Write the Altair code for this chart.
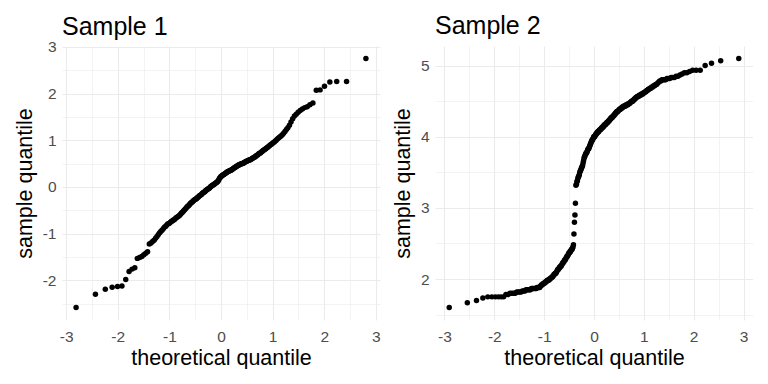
import altair as alt
import pandas as pd

# ---- data (sorted sample values) ----
sample1 = [
    -2.58, -2.30, -2.19, -2.15, -2.13, -2.12, -1.98, -1.81, -1.76, -1.73,
    -1.53, -1.51, -1.49, -1.45, -1.42, -1.39, -1.22, -1.20, -1.17, -1.14,
    -1.10, -1.06, -1.02, -0.98, -0.95, -0.92, -0.89, -0.86, -0.84, -0.81,
    -0.79, -0.78, -0.76, -0.74, -0.73, -0.71, -0.70, -0.68, -0.66, -0.65,
    -0.63, -0.62, -0.60, -0.58, -0.56, -0.54, -0.52, -0.50, -0.48, -0.46,
    -0.44, -0.42, -0.41, -0.39, -0.37, -0.35, -0.34, -0.32, -0.31, -0.29,
    -0.28, -0.27, -0.26, -0.25, -0.23, -0.22, -0.21, -0.19, -0.18, -0.17,
    -0.16, -0.14, -0.13, -0.12, -0.11, -0.10, -0.08, -0.07, -0.06, -0.05,
    -0.04, -0.03, -0.02, 0.00, 0.01, 0.02, 0.03, 0.04, 0.05, 0.06,
    0.07, 0.08, 0.09, 0.10, 0.11, 0.13, 0.15, 0.18, 0.20, 0.22,
    0.23, 0.24, 0.25, 0.26, 0.27, 0.28, 0.29, 0.30, 0.31, 0.32,
    0.33, 0.33, 0.34, 0.35, 0.36, 0.36, 0.37, 0.38, 0.39, 0.40,
    0.41, 0.42, 0.43, 0.44, 0.45, 0.46, 0.47, 0.47, 0.48, 0.49,
    0.49, 0.50, 0.51, 0.51, 0.52, 0.53, 0.54, 0.55, 0.55, 0.56,
    0.57, 0.58, 0.58, 0.59, 0.60, 0.61, 0.62, 0.63, 0.64, 0.65,
    0.67, 0.68, 0.69, 0.71, 0.72, 0.73, 0.75, 0.76, 0.78, 0.79,
    0.81, 0.82, 0.84, 0.85, 0.87, 0.89, 0.91, 0.92, 0.94, 0.96,
    0.98, 1.00, 1.03, 1.05, 1.07, 1.09, 1.12, 1.15, 1.19, 1.23,
    1.27, 1.32, 1.39, 1.46, 1.52, 1.56, 1.60, 1.64, 1.67, 1.70,
    1.72, 1.76, 1.80, 2.07, 2.08, 2.16, 2.25, 2.26, 2.26, 2.75,
]

sample2 = [
    1.600, 1.667, 1.700, 1.733, 1.750, 1.750, 1.750, 1.750, 1.750, 1.750,
    1.783, 1.783, 1.800, 1.800, 1.800, 1.800, 1.817, 1.817, 1.817, 1.817,
    1.833, 1.833, 1.833, 1.850, 1.850, 1.850, 1.850, 1.850, 1.867, 1.867,
    1.867, 1.867, 1.867, 1.867, 1.883, 1.883, 1.883, 1.883, 1.900, 1.917,
    1.917, 1.933, 1.933, 1.950, 1.950, 1.967, 1.967, 1.983, 1.983, 1.983,
    2.000, 2.000, 2.017, 2.017, 2.033, 2.033, 2.050, 2.067, 2.067, 2.083,
    2.083, 2.100, 2.117, 2.133, 2.133, 2.150, 2.167, 2.167, 2.183, 2.183,
    2.200, 2.217, 2.233, 2.233, 2.250, 2.267, 2.267, 2.283, 2.300, 2.317,
    2.317, 2.333, 2.350, 2.367, 2.367, 2.383, 2.383, 2.400, 2.417, 2.417,
    2.433, 2.450, 2.483, 2.633, 2.800, 2.900, 3.067,
    3.317, 3.333, 3.367, 3.383, 3.417, 3.433, 3.450, 3.467, 3.500, 3.517,
    3.533, 3.550, 3.567, 3.583, 3.600, 3.633, 3.667, 3.700, 3.717, 3.733,
    3.750, 3.767, 3.767, 3.783, 3.800, 3.817, 3.833, 3.833, 3.850, 3.867,
    3.883, 3.900, 3.917, 3.933, 3.950, 3.950, 3.967, 3.983, 4.000, 4.000,
    4.000, 4.017, 4.033, 4.033, 4.050, 4.050, 4.067, 4.067, 4.067, 4.083,
    4.083, 4.100, 4.100, 4.100, 4.117, 4.117, 4.133, 4.133, 4.133, 4.150,
    4.150, 4.167, 4.167, 4.167, 4.183, 4.183, 4.200, 4.200, 4.200, 4.217,
    4.217, 4.233, 4.233, 4.250, 4.250, 4.267, 4.267, 4.267, 4.283, 4.283,
    4.300, 4.300, 4.317, 4.317, 4.333, 4.333, 4.350, 4.350, 4.350, 4.367,
    4.367, 4.383, 4.383, 4.383, 4.400, 4.400, 4.400, 4.417, 4.417, 4.417,
    4.433, 4.433, 4.433, 4.433, 4.450, 4.450, 4.450, 4.450, 4.467, 4.467,
    4.467, 4.483, 4.483, 4.500, 4.500, 4.500, 4.517, 4.517, 4.533, 4.533,
    4.550, 4.550, 4.567, 4.567, 4.567, 4.583, 4.583, 4.583, 4.600, 4.600,
    4.600, 4.617, 4.617, 4.633, 4.633, 4.650, 4.650, 4.667, 4.667, 4.683,
    4.683, 4.700, 4.700, 4.717, 4.717, 4.733, 4.733, 4.750, 4.767, 4.783,
    4.783, 4.800, 4.800, 4.800, 4.800, 4.817, 4.817, 4.817, 4.833, 4.833,
    4.833, 4.850, 4.850, 4.867, 4.883, 4.900, 4.900, 4.917, 4.933, 4.933,
    4.933, 5.000, 5.033, 5.067, 5.100,
]

titles = ["Sample 1", "Sample 2"]
x_title = "theoretical quantile"
y_title = "sample quantile"

x_ticks = [-3, -2.5, -2, -1.5, -1, -0.5, 0, 0.5, 1, 1.5, 2, 2.5, 3]
y_ticks_1 = [-2.5, -2, -1.5, -1, -0.5, 0, 0.5, 1, 1.5, 2, 2.5, 3]
y_ticks_2 = [1.5, 2, 2.5, 3, 3.5, 4, 4.5, 5]

FONT = "Liberation Sans"
grid_width = {"condition": {"test": "datum.value % 1 !== 0", "value": 0.6}, "value": 1.1}
label_expr = "datum.value % 1 === 0 ? '' + datum.value : ''"


def panel(values, title, xdom, ydom, yvals, title_dy):
    df = pd.DataFrame({"v": values})
    return (
        alt.Chart(df, title=alt.TitleParams(
            title, anchor="start", frame="group", fontSize=25, font=FONT,
            fontWeight="normal", color="black", offset=7, dy=title_dy))
        .transform_window(rank="row_number()", sort=[alt.SortField("v", order="ascending")])
        .transform_joinaggregate(n="count()")
        .transform_calculate(q="quantileNormal((datum.rank - 0.5) / datum.n)")
        .mark_circle(size=30, color="black", opacity=1)
        .encode(
            x=alt.X("q:Q", title=x_title,
                    scale=alt.Scale(domain=xdom, nice=False, zero=False),
                    axis=alt.Axis(values=x_ticks, labelExpr=label_expr, gridWidth=grid_width)),
            y=alt.Y("v:Q", title=y_title,
                    scale=alt.Scale(domain=ydom, nice=False, zero=False),
                    axis=alt.Axis(values=yvals, labelExpr=label_expr, gridWidth=grid_width)),
        )
        .properties(width=318, height=274)
    )


p1 = panel(sample1, titles[0], [-3.08, 3.08], [-2.85, 3.02], y_ticks_1, 7)
p2 = panel(sample2, titles[1], [-3.19, 3.19], [1.425, 5.275], y_ticks_2, 0)

chart = (
    alt.hconcat(p1, p2, spacing=55, bounds="flush")
    .properties(padding={"left": 6, "top": 6, "right": 0, "bottom": 0})
    .configure_view(stroke=None)
    .configure_axis(
        grid=True, gridColor="#ebebeb", ticks=False, domain=False,
        labelFont=FONT, labelFontSize=15.5, labelColor="#4d4d4d",
        titleFont=FONT, titleFontSize=21.5, titleFontWeight="normal", titleColor="black",
        labelPadding=6, titlePadding=6, labelFlush=False, labelOverlap=False,
    )
    .configure_axisX(labelPadding=9, titlePadding=3)
)

chart.save("out.html", embed_options={"renderer": "svg", "actions": False})
